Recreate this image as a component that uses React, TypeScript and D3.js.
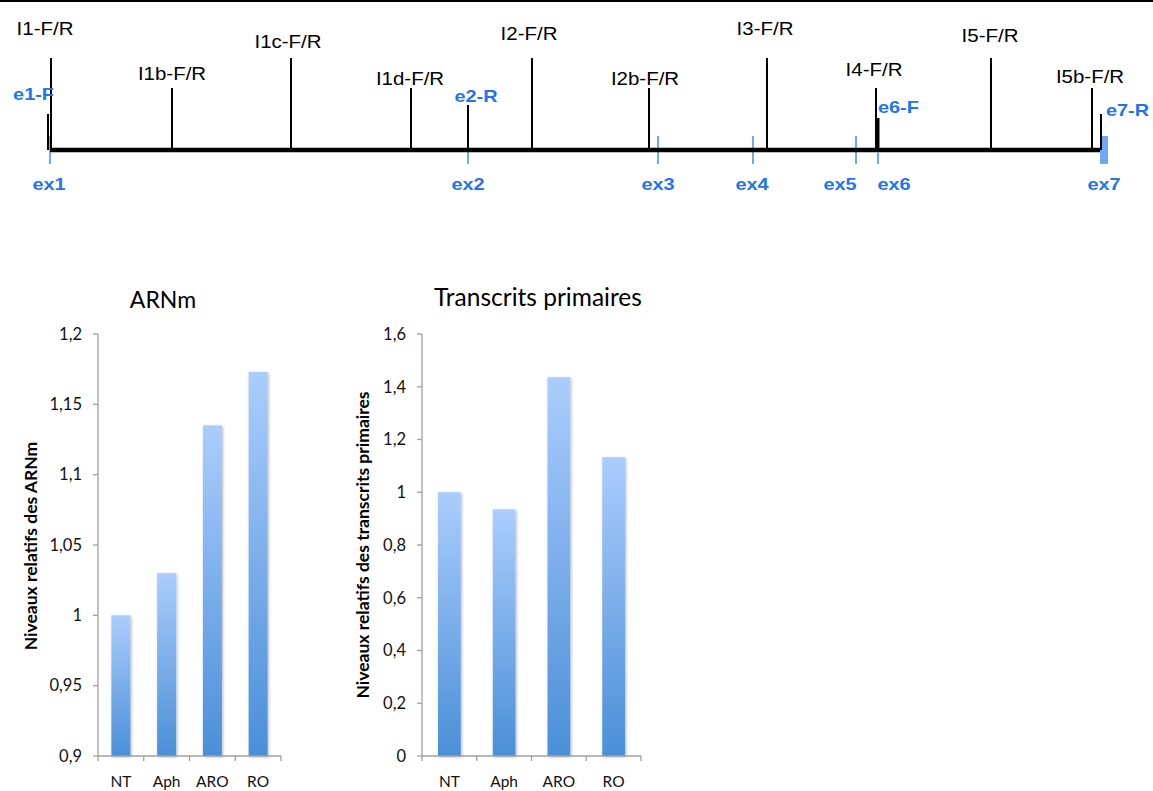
import React from "react";
import * as d3 from "d3";

// ---------- Gene diagram data ----------
const primerNames = ["I1-F/R", "I1b-F/R", "I1c-F/R", "I1d-F/R", "I2-F/R", "I2b-F/R", "I3-F/R", "I4-F/R", "I5-F/R", "I5b-F/R"];
const primerPos = [1, 122, 241, 361, 482, 599, 717, 826, 941, 1042];
const primerTall = [true, false, true, false, true, false, true, false, true, false];

const exonNames = ["ex1", "ex2", "ex3", "ex4", "ex5", "ex6", "ex7"];
const exonPos = [0, 418, 608, 703, 806, 828, 1050];

const exPrimerNames = ["e1-F", "e2-R", "e6-F", "e7-R"];
const exPrimerPos = [-2, 418, 828, 1051];

// ---------- Bar chart data ----------
const categories = ["NT", "Aph", "ARO", "RO"];
const arnmValues = [1.0, 1.03, 1.135, 1.173];
const primaryValues = [1.0, 0.935, 1.436, 1.133];
const arnmTicks = [0.9, 0.95, 1, 1.05, 1.1, 1.15, 1.2];
const primaryTicks = [0, 0.2, 0.4, 0.6, 0.8, 1, 1.2, 1.4, 1.6];

// ---------- layout (styles / offsets) ----------
const primerLabelDy = [23, 8, 10, 3, 18, 3, 23, 12, 16, 5];
const primerLabelDx = [-6, 0, -3, -1, -3, -4, -2, -2, -1, -2];
const exLabelDx = [-1, 0, 0, -1, -16, 16, 0];
const exPrimerTop = [114, 105, 118, 114];
const exPrimerLabel = [
  { dx: 6, y: 100, anchor: "end" },
  { dx: 8, y: 102, anchor: "middle" },
  { dx: 0, y: 113, anchor: "start" },
  { dx: 5, y: 116, anchor: "start" },
];

const BLUE_TEXT = "#1f74f0";
const BLUE_TICK = "#6fa8f5";
const ARIAL = "'Liberation Sans', Arial, sans-serif";
const CHART_FONT = "Lato, 'Open Sans', sans-serif";
const STRETCH = 1.17;

const fmt = (d: number) => String(+d.toFixed(2)).replace(".", ",");

function StretchText({ x, y, anchor, children, fill, size, weight }: any) {
  return (
    <text
      transform={`translate(${x},${y}) scale(${STRETCH},1)`}
      textAnchor={anchor}
      fill={fill}
      fontSize={size}
      fontWeight={weight}
      fontFamily={ARIAL}
    >
      {children}
    </text>
  );
}

function GeneDiagram() {
  const gx = d3.scaleLinear().domain([0, 1050]).range([50, 1100]);
  const lineY = 150;
  return (
    <g>
      <line x1={0} x2={1153} y1={1} y2={1} stroke="#000" strokeWidth={2} />
      {exonNames.map((n, i) =>
        i === exonNames.length - 1 ? (
          <rect key={n} x={gx(exonPos[i])} y={136} width={8} height={28} fill={BLUE_TICK} />
        ) : (
          <line key={n} x1={gx(exonPos[i])} x2={gx(exonPos[i])} y1={136} y2={164} stroke={BLUE_TICK} strokeWidth={2} />
        )
      )}
      <line x1={gx(0)} x2={gx(1050)} y1={lineY} y2={lineY} stroke="#000" strokeWidth={4.5} />
      {primerNames.map((n, i) => {
        const x = gx(primerPos[i]);
        const top = primerTall[i] ? 58 : 88;
        return (
          <g key={n}>
            <line x1={x} x2={x} y1={top} y2={lineY} stroke="#000" strokeWidth={2} />
            <StretchText x={x + primerLabelDx[i]} y={top - primerLabelDy[i]} anchor="middle" fill="#000" size={17.5}>
              {n}
            </StretchText>
          </g>
        );
      })}
      {exPrimerNames.map((n, i) => {
        const x = gx(exPrimerPos[i]);
        const l = exPrimerLabel[i];
        return (
          <g key={n}>
            <line x1={x} x2={x} y1={exPrimerTop[i]} y2={lineY} stroke="#000" strokeWidth={i === 2 ? 3 : 2} />
            <StretchText x={x + l.dx} y={l.y} anchor={l.anchor} fill={BLUE_TEXT} size={17} weight="bold">
              {n}
            </StretchText>
          </g>
        );
      })}
      {[0, 5].map((i) => (
        <line key={"ov" + i} x1={gx(exonPos[i])} x2={gx(exonPos[i])} y1={152} y2={164} stroke={BLUE_TICK} strokeWidth={2} />
      ))}
      {exonNames.map((n, i) => (
        <StretchText key={"l" + n} x={gx(exonPos[i]) + exLabelDx[i] + (i === 6 ? 4 : 0)} y={190} anchor="middle" fill={BLUE_TEXT} size={17} weight="bold">
          {n}
        </StretchText>
      ))}
    </g>
  );
}

function BarChart({ values, ticks, domain, x0, x1, y0, y1, title, titleX, titleY, titleSize, yTitle, yTitleX, yTitleY, id }: any) {
  const x = d3.scaleBand<string>().domain(categories).range([x0, x1]).paddingInner(0.585).paddingOuter(0.2925);
  const y = d3.scaleLinear().domain(domain).range([y0, y1]);
  const step = x.step();
  const axisColor = "#a0a0a0";
  return (
    <g>
      <defs>
        <linearGradient id={`grad-${id}`} x1="0" y1="0" x2="0" y2="1">
          <stop offset="0%" stopColor="#abcdfd" />
          <stop offset="100%" stopColor="#4a8fd8" />
        </linearGradient>
        <filter id={`sh-${id}`} x="-50%" y="-10%" width="200%" height="120%">
          <feDropShadow dx={1} dy={1} stdDeviation={1.6} floodColor="#000" floodOpacity={0.3} />
        </filter>
      </defs>
      <text x={titleX} y={titleY} textAnchor="middle" fontFamily={CHART_FONT} fontSize={titleSize} fill="#000">
        {title}
      </text>
      {categories.map((c, i) => (
        <rect
          key={c}
          x={x(c)}
          y={y(values[i])}
          width={x.bandwidth()}
          height={y(domain[0]) - y(values[i])}
          fill={`url(#grad-${id})`}
          filter={`url(#sh-${id})`}
        />
      ))}
      <line x1={x0} x2={x0} y1={y(domain[1])} y2={y(domain[0])} stroke={axisColor} strokeWidth={1.3} />
      <line x1={x0} x2={x1} y1={y(domain[0])} y2={y(domain[0])} stroke={axisColor} strokeWidth={1.3} />
      {ticks.map((t: number) => (
        <g key={t}>
          <line x1={x0 - 5} x2={x0} y1={y(t)} y2={y(t)} stroke={axisColor} strokeWidth={1.3} />
          <text x={x0 - 16} y={y(t)} dy="0.35em" textAnchor="end" fontFamily={CHART_FONT} fontSize={16.5} fill="#111">
            {fmt(t)}
          </text>
        </g>
      ))}
      {d3.range(categories.length + 1).map((i) => (
        <line key={"xt" + i} x1={x0 + i * step} x2={x0 + i * step} y1={y0} y2={y0 + 5} stroke={axisColor} strokeWidth={1.3} />
      ))}
      {categories.map((c) => (
        <text key={"cl" + c} x={(x(c) as number) + x.bandwidth() / 2} y={y0 + 31} textAnchor="middle" fontFamily={CHART_FONT} fontSize={15.5} fill="#111">
          {c}
        </text>
      ))}
      <text
        transform={`translate(${yTitleX},${yTitleY}) rotate(-90)`}
        textAnchor="middle"
        dy="0.35em"
        fontFamily={CHART_FONT}
        fontWeight="bold"
        fontSize={17.5}
        fill="#000"
      >
        {yTitle}
      </text>
    </g>
  );
}

export default function App() {
  return (
    <svg width={1153} height={791} style={{ position: "absolute", left: 0, top: 0, background: "#fff" }}>
      <rect width={1153} height={791} fill="#fff" />
      <GeneDiagram />
      <BarChart
        id="a"
        values={arnmValues}
        ticks={arnmTicks}
        domain={[0.9, 1.2]}
        x0={98}
        x1={281}
        y0={756}
        y1={334}
        title="ARNm"
        titleX={163}
        titleY={308}
        titleSize={23}
        yTitle="Niveaux relatifs des ARNm"
        yTitleX={31}
        yTitleY={546}
      />
      <BarChart
        id="b"
        values={primaryValues}
        ticks={primaryTicks}
        domain={[0, 1.6]}
        x0={422}
        x1={641}
        y0={756}
        y1={334}
        title="Transcrits primaires"
        titleX={538}
        titleY={306}
        titleSize={24.5}
        yTitle="Niveaux relatifs des transcrits primaires"
        yTitleX={363}
        yTitleY={545}
      />
    </svg>
  );
}
